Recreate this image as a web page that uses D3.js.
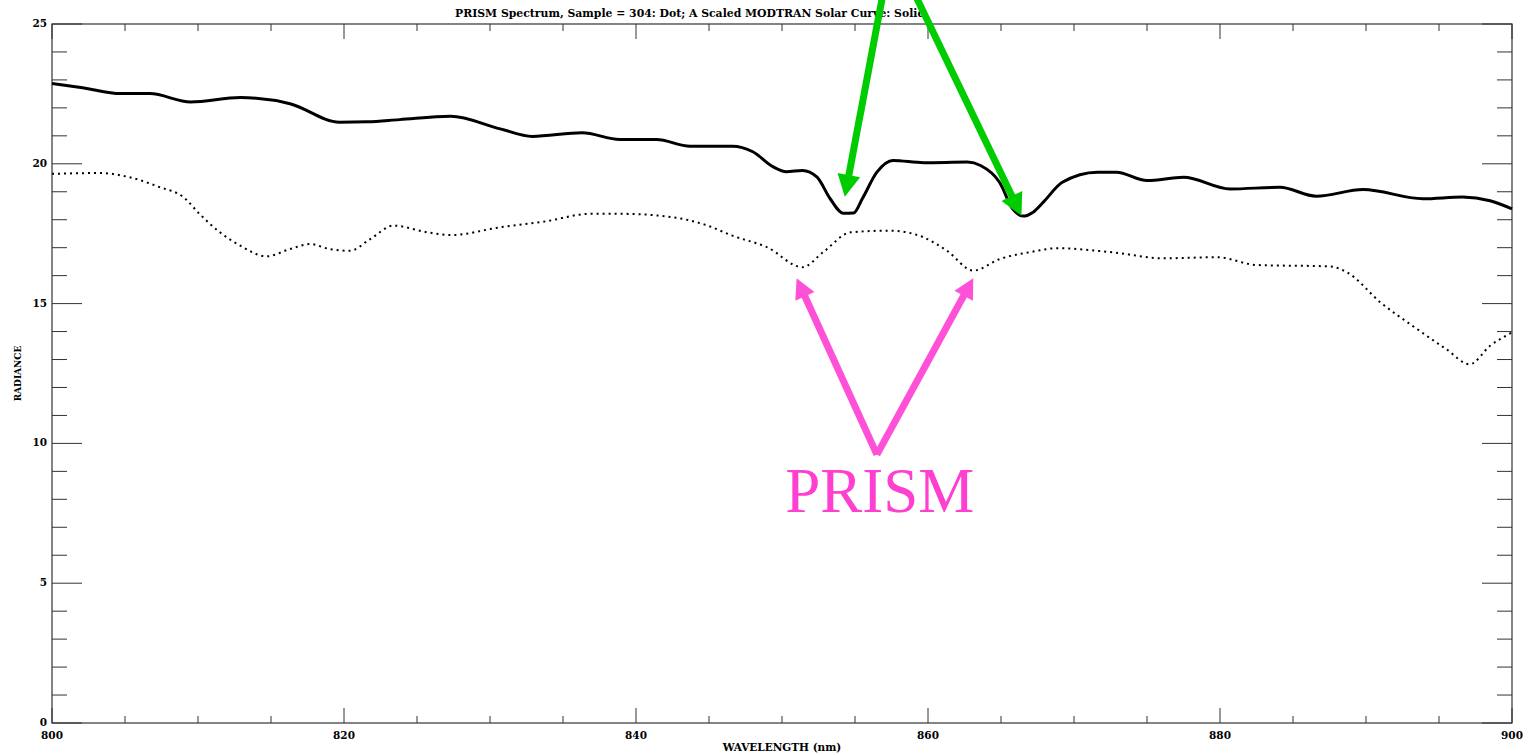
<!DOCTYPE html>
<html lang="en">
<head>
<meta charset="UTF-8">
<title>PRISM Spectrum</title>
<script src="https://d3js.org/d3.v7.min.js"></script>
<style>
  body { margin: 0; background: #fff; }
  svg { display: block; }
</style>
</head>
<body>
<script>

    // wavelengths (nm) and radiance
    var solidNm  = [800, 802.1, 804.7, 806.7, 809.5, 812.9, 816.3, 819.7, 821.6, 823.8, 827.3, 830.7, 832.9,
                    836.3, 838.9, 841.4, 843.7, 846.6, 848.0, 849.4, 850.3, 851.4, 852.4, 853.3, 854.2, 854.9,
                    855.5, 856.5, 857.6, 859.7, 862.7, 863.6, 864.9, 865.8, 866.5, 867.2, 867.9, 869.2, 871.6,
                    872.9, 875.0, 877.5, 880.7, 884.1, 886.6, 889.8, 893.9, 896.6, 898.5, 900];
    var solidRad = [22.87, 22.72, 22.51, 22.51, 22.21, 22.37, 22.15, 21.49, 21.50, 21.58, 21.70, 21.25, 20.98,
                    21.11, 20.87, 20.87, 20.63, 20.63, 20.43, 19.89, 19.72, 19.76, 19.52, 18.75, 18.23, 18.24,
                    18.75, 19.70, 20.12, 20.04, 20.06, 19.94, 19.34, 18.39, 18.13, 18.27, 18.63, 19.34, 19.70,
                    19.70, 19.40, 19.52, 19.10, 19.16, 18.84, 19.08, 18.75, 18.81, 18.68, 18.39];

    var dotNm  = [800, 803.3, 805.3, 807.4, 809.0, 810.1, 811.5, 812.9, 814.7, 816.3, 817.7, 819.0, 820.4,
                  821.8, 823.4, 825.7, 827.3, 830.7, 833.9, 836.8, 839.1, 842.5, 844.9, 846.6, 849.0, 851.4,
                  852.8, 854.7, 857.4, 859.7, 861.3, 863.1, 864.9, 867.2, 868.8, 872.7, 876.1, 879.8, 882.5,
                  887.5, 888.7, 891.0, 893.2, 895.5, 897.1, 898.5, 900];
    var dotRad = [19.64, 19.67, 19.52, 19.16, 18.81, 18.21, 17.55, 17.07, 16.69, 16.95, 17.13, 16.95, 16.89,
                  17.31, 17.79, 17.55, 17.45, 17.73, 17.95, 18.21, 18.21, 18.09, 17.79, 17.43, 17.01, 16.30,
                  16.83, 17.55, 17.61, 17.37, 16.89, 16.18, 16.59, 16.86, 16.98, 16.83, 16.62, 16.66, 16.38,
                  16.33, 16.12, 15.04, 14.20, 13.37, 12.83, 13.49, 13.97];

    var xMajor = [800, 820, 840, 860, 880, 900];
    var yMajor = [0, 5, 10, 15, 20, 25];

    var title = 'PRISM Spectrum, Sample = 304: Dot; A Scaled MODTRAN Solar Curve: Solid';

    // annotation arrows, in data units: [fromNm, fromRad, tipNm, tipRad]
    var greenArrows = [[856.85, 25.9, 854.3, 18.82], [859.25, 25.9, 866.4, 18.14]];
    var pinkArrows  = [[856.5, 9.6, 851.0, 15.91], [856.5, 9.6, 863.1, 15.91]];

    var W = 1531, H = 755;
    var pL = 52, pR = 1512, pT = 24, pB = 723;

    var svg = d3.select('body').append('svg')
        .attr('width', W)
        .attr('height', H);

    var x = d3.scaleLinear().domain([800, 900]).range([pL, pR]);
    var y = d3.scaleLinear().domain([0, 25]).range([pB, pT]);

    var axisColor = '#333';
    var labelFont = 'DejaVu Serif';

    // frame
    svg.append('rect')
        .attr('x', pL).attr('y', pT)
        .attr('width', pR - pL).attr('height', pB - pT)
        .attr('fill', 'none')
        .attr('stroke', axisColor)
        .attr('stroke-width', 1.2);

    // y ticks, left and right
    var yTicks = d3.range(0, 26);
    svg.selectAll('.ytick')
        .data(yTicks)
        .enter().append('line')
            .attr('x1', pL)
            .attr('x2', function(d) { return pL + (d % 5 === 0 ? 30 : 15); })
            .attr('y1', function(d) { return y(d); })
            .attr('y2', function(d) { return y(d); })
            .attr('stroke', axisColor);
    svg.selectAll('.ytickr')
        .data(yTicks)
        .enter().append('line')
            .attr('x1', pR)
            .attr('x2', function(d) { return pR - (d % 5 === 0 ? 30 : 15); })
            .attr('y1', function(d) { return y(d); })
            .attr('y2', function(d) { return y(d); })
            .attr('stroke', axisColor);

    // x ticks, bottom and top
    var xTicks = d3.range(800, 901, 5);
    svg.selectAll('.xtick')
        .data(xTicks)
        .enter().append('line')
            .attr('x1', function(d) { return x(d); })
            .attr('x2', function(d) { return x(d); })
            .attr('y1', pB)
            .attr('y2', function(d) { return pB - (d % 20 === 0 ? 15 : 7); })
            .attr('stroke', axisColor);
    svg.selectAll('.xtickt')
        .data(xTicks)
        .enter().append('line')
            .attr('x1', function(d) { return x(d); })
            .attr('x2', function(d) { return x(d); })
            .attr('y1', pT)
            .attr('y2', function(d) { return pT + (d % 20 === 0 ? 15 : 7); })
            .attr('stroke', axisColor);

    // tick labels
    svg.selectAll('.ylab')
        .data(yMajor)
        .enter().append('text')
            .attr('x', pL - 5)
            .attr('y', function(d) { return y(d) + 3; })
            .attr('text-anchor', 'end')
            .attr('font-family', labelFont)
            .attr('font-weight', 'bold')
            .attr('font-size', 10.5)
            .text(function(d) { return d; });

    svg.selectAll('.xlab')
        .data(xMajor)
        .enter().append('text')
            .attr('x', function(d) { return x(d); })
            .attr('y', pB + 16)
            .attr('text-anchor', 'middle')
            .attr('font-family', labelFont)
            .attr('font-weight', 'bold')
            .attr('font-size', 10.5)
            .text(function(d) { return d; });

    svg.append('text')
        .attr('x', (pL + pR) / 2)
        .attr('y', pB + 28)
        .attr('text-anchor', 'middle')
        .attr('font-family', labelFont)
        .attr('font-weight', 'bold')
        .attr('font-size', 10.5)
        .text('WAVELENGTH (nm)');

    svg.append('text')
        .attr('transform', 'translate(21,' + y(12.5) + ') rotate(-90)')
        .attr('text-anchor', 'middle')
        .attr('font-family', labelFont)
        .attr('font-weight', 'bold')
        .attr('font-size', 9)
        .text('RADIANCE');

    svg.append('text')
        .attr('x', 455)
        .attr('y', 17)
        .attr('font-family', labelFont)
        .attr('font-weight', 'bold')
        .attr('font-size', 11)
        .attr('textLength', 470)
        .attr('lengthAdjust', 'spacingAndGlyphs')
        .text(title);

    // curves
    var line = d3.line()
        .x(function(d) { return x(d[0]); })
        .y(function(d) { return y(d[1]); })
        .curve(d3.curveMonotoneX);

    svg.append('path')
        .datum(dotNm.map(function(d, i) { return [d, dotRad[i]]; }))
        .attr('d', line)
        .attr('fill', 'none')
        .attr('stroke', '#000')
        .attr('stroke-width', 2)
        .attr('stroke-dasharray', '2,4');

    svg.append('path')
        .datum(solidNm.map(function(d, i) { return [d, solidRad[i]]; }))
        .attr('d', line)
        .attr('fill', 'none')
        .attr('stroke', '#000')
        .attr('stroke-width', 3);

    function arrow(a, color, width, headLen, headW) {
        var x1 = x(a[0]), y1 = y(a[1]), x2 = x(a[2]), y2 = y(a[3]);
        var dx = x2 - x1, dy = y2 - y1, len = Math.sqrt(dx * dx + dy * dy);
        var ux = dx / len, uy = dy / len, nx = -uy, ny = ux;
        var bx = x2 - ux * headLen, by = y2 - uy * headLen;
        svg.append('line')
            .attr('x1', x1).attr('y1', y1)
            .attr('x2', bx + ux * 2).attr('y2', by + uy * 2)
            .attr('stroke', color)
            .attr('stroke-width', width);
        svg.append('polygon')
            .attr('points', [[x2, y2], [bx + nx * headW / 2, by + ny * headW / 2], [bx - nx * headW / 2, by - ny * headW / 2]].join(' '))
            .attr('fill', color);
    }

    greenArrows.forEach(function(a) { arrow(a, '#00cc00', 7, 22, 23); });
    pinkArrows.forEach(function(a) { arrow(a, '#ff50d8', 7, 20, 21); });

    svg.append('text')
        .attr('x', x(856.7))
        .attr('y', y(7.56))
        .attr('text-anchor', 'middle')
        .attr('font-family', 'Liberation Serif')
        .attr('font-size', 63)
        .attr('fill', '#ff3fcf')
        .text('PRISM');

</script>
</body>
</html>
